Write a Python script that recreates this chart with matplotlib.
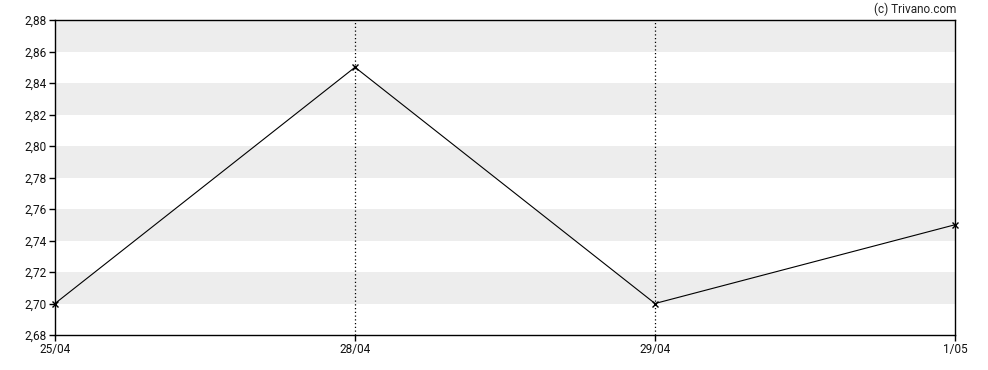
import matplotlib
matplotlib.use("Agg")
import matplotlib.pyplot as plt

plt.rcParams['font.family'] = ['Roboto', 'DejaVu Sans']

dates = ["25/04", "28/04", "29/04", "1/05"]
values = [2.70, 2.85, 2.70, 2.75]
yticks = [2.68, 2.70, 2.72, 2.74, 2.76, 2.78, 2.80, 2.82, 2.84, 2.86, 2.88]
ytick_labels = ["2,68", "2,70", "2,72", "2,74", "2,76", "2,78", "2,80", "2,82", "2,84", "2,86", "2,88"]
bands = [(2.70, 2.72), (2.74, 2.76), (2.78, 2.80), (2.82, 2.84), (2.86, 2.88)]

fig = plt.figure(figsize=(9.88, 3.70), dpi=100)
ax = fig.add_axes([55/988, 1-335/370, 900/988, 315/370])

x = list(range(len(dates)))
for lo, hi in bands:
    ax.axhspan(lo, hi, color='#ededed', lw=0, zorder=0)
for xi in x[1:-1]:
    ax.axvline(xi, color='black', lw=0.9, ls=(0, (1, 2)), zorder=1)

ax.plot(x, values, color='black', lw=0.8, marker='x', ms=4, mew=1, zorder=3, clip_on=False)

ax.set_xlim(0, len(dates)-1)
ax.set_ylim(2.68, 2.88)
ax.set_xticks(x)
ax.set_xticklabels(dates)
ax.set_yticks(yticks)
ax.set_yticklabels(ytick_labels)
ax.tick_params(axis='both', labelsize=8.5, length=4, width=1, color='black', labelcolor='#111111', pad=2)
for s in ax.spines.values():
    s.set_linewidth(1)
    s.set_color('black')

fig.text(956/988, 1-9/370, "(c) Trivano.com", ha='right', va='center', fontsize=8.5, color='#222222')

fig.savefig("out.png", dpi=100)
